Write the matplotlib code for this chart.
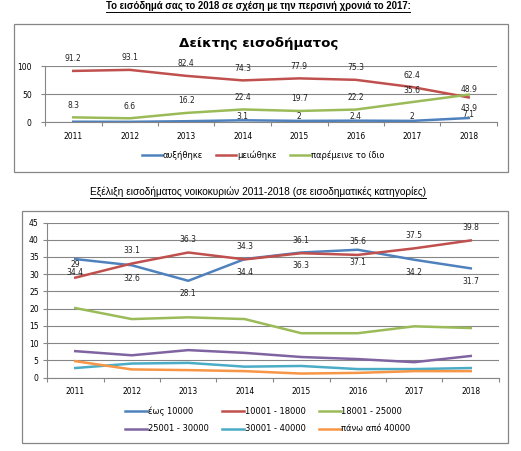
import numpy as np
import matplotlib
matplotlib.use("Agg")
import matplotlib.pyplot as plt
from matplotlib.patches import Rectangle
from matplotlib.lines import Line2D

W, H = 521, 451
DPI = 100

years = ["2011", "2012", "2013", "2014", "2015", "2016", "2017", "2018"]

# top chart: income index
increased = [0.5, 0.3, 1.4, 3.1, 2, 2.4, 2, 7.1]
increased_lbl = ["", "", "", "3.1", "2", "2.4", "2", "7.1"]
decreased = [91.2, 93.1, 82.4, 74.3, 77.9, 75.3, 62.4, 43.9]
same = [8.3, 6.6, 16.2, 22.4, 19.7, 22.2, 35.6, 48.9]
top_names = ["αυξήθηκε", "μειώθηκε", "παρέμεινε το ίδιο"]

# bottom chart: household income by bracket
upto10k = [34.4, 32.6, 28.1, 34.4, 36.3, 37.1, 34.2, 31.7]
b10_18 = [29, 33.1, 36.3, 34.3, 36.1, 35.6, 37.5, 39.8]
b18_25 = [20.2, 17.0, 17.5, 17.0, 12.9, 12.9, 14.9, 14.4]
b25_30 = [7.7, 6.5, 8.0, 7.2, 6.0, 5.4, 4.5, 6.3]
b30_40 = [2.8, 4.1, 4.3, 3.2, 3.4, 2.5, 2.5, 2.8]
over40k = [4.8, 2.4, 2.2, 1.9, 1.2, 1.4, 1.9, 1.9]
bottom_names = ["έως 10000", "10001 - 18000", "18001 - 25000",
                "25001 - 30000", "30001 - 40000", "πάνω από 40000"]

BLUE, RED, GREEN = "#4F81BD", "#C0504D", "#9BBB59"
PURPLE, TEAL, ORANGE = "#8064A2", "#4BACC6", "#F79646"
GRID = "#868686"
LW = 1.8

plt.rcParams["font.family"] = ["DejaVu Sans"]


def fbox(l, t, r, b):
    return [l / W, 1 - b / H, (r - l) / W, (b - t) / H]


def px2pt(p):
    return p * 72.0 / DPI


def style_axes(ax, ymax, ystep, ypad):
    x = np.arange(len(years))
    ax.set_xlim(-0.5, len(years) - 0.5)
    ax.set_ylim(0, ymax)
    ax.set_yticks(np.arange(0, ymax + 0.1, ystep))
    ax.set_xticks(np.arange(-0.5, len(years)), [""] * (len(years) + 1))
    ax.set_xticks(x, years, minor=True)
    ax.tick_params(axis="x", which="major", length=3, width=0.8, color=GRID, direction="out")
    ax.tick_params(axis="x", which="minor", length=0, pad=7, labelsize=5.5)
    ax.tick_params(axis="y", length=3, width=0.8, color=GRID, pad=ypad, labelsize=5.5)
    ax.grid(axis="y", color=GRID, lw=0.8)
    ax.set_axisbelow(True)
    for s in ["top", "right"]:
        ax.spines[s].set_visible(False)
    for s in ["left", "bottom"]:
        ax.spines[s].set_color(GRID)
        ax.spines[s].set_linewidth(0.8)
    ax.set_facecolor("none")


def put_labels(ax, vals, texts, dy_px, last_dy_px=None):
    for i, (v, t) in enumerate(zip(vals, texts)):
        if not t:
            continue
        dy = dy_px if (last_dy_px is None or i < len(vals) - 1) else last_dy_px
        ax.annotate(t, (i, v), xytext=(0, px2pt(dy)), textcoords="offset points",
                    ha="center", va="center", fontsize=5.5, color="#222222",
                    annotation_clip=False)


def underline(fig, txt):
    fig.canvas.draw()
    bb = txt.get_window_extent()
    y = bb.y0 - 0.5
    fig.add_artist(Line2D([bb.x0 / W, bb.x1 / W], [y / H, y / H],
                          transform=fig.transFigure, color="black", lw=0.7))


fig = plt.figure(figsize=(W / DPI, H / DPI), dpi=DPI)

# frames
fig.add_artist(Rectangle((14 / W, 1 - 172 / H), 494 / W, 148 / H, transform=fig.transFigure,
                         fill=False, edgecolor=GRID, lw=0.9))
fig.add_artist(Rectangle((22 / W, 1 - 443 / H), 486 / W, 232 / H, transform=fig.transFigure,
                         fill=False, edgecolor=GRID, lw=0.9))

t1 = fig.text(258 / W, 1 - 6 / H, "Το εισόδημά σας το 2018 σε σχέση με την περσινή χρονιά το 2017:",
              ha="center", va="center", fontsize=6.9, fontweight="bold",
              family=["Liberation Sans Narrow", "Liberation Sans", "DejaVu Sans"])
t2 = fig.text(258 / W, 1 - 192 / H, "Εξέλιξη εισοδήματος νοικοκυριών 2011-2018 (σε εισοδηματικές κατηγορίες)",
              ha="center", va="center", fontsize=7.3,
              family=["Liberation Sans Narrow", "Liberation Sans", "DejaVu Sans"])

# top chart
ax1 = fig.add_axes(fbox(45, 66, 497, 122))
style_axes(ax1, 100, 50, 6.5)
x = np.arange(len(years))
l1, = ax1.plot(x, increased, color=BLUE, lw=LW, label=top_names[0])
l2, = ax1.plot(x, decreased, color=RED, lw=LW, label=top_names[1])
l3, = ax1.plot(x, same, color=GREEN, lw=LW, label=top_names[2])
for ln in (l1, l2, l3):
    ln.set_clip_on(False)
put_labels(ax1, decreased, ["{:g}".format(v) for v in decreased], 12, -11)
put_labels(ax1, same, ["{:g}".format(v) for v in same], 12, 5)
put_labels(ax1, increased, increased_lbl, 4)
fig.text(259 / W, 1 - 44 / H, "Δείκτης εισοδήματος", ha="center", va="center",
         fontsize=9.6, fontweight="bold")
fig.legend([l1, l2, l3], top_names, loc="center", bbox_to_anchor=(263 / W, 1 - 155 / H),
           ncol=3, frameon=False, fontsize=6, handlelength=2.4, handletextpad=0.1,
           columnspacing=1.6, borderpad=0)

# bottom chart
ax2 = fig.add_axes(fbox(47, 222.5, 499, 377.7))
style_axes(ax2, 45, 5, 3)
series = [upto10k, b10_18, b18_25, b25_30, b30_40, over40k]
colors = [BLUE, RED, GREEN, PURPLE, TEAL, ORANGE]
handles = []
for vals, c, n in zip(series, colors, bottom_names):
    h, = ax2.plot(x, vals, color=c, lw=LW, label=n)
    handles.append(h)
put_labels(ax2, b10_18, ["{:g}".format(v) for v in b10_18], 13)
put_labels(ax2, upto10k, ["{:g}".format(v) for v in upto10k], -13)
order = [0, 3, 1, 4, 2, 5]
fig.legend([handles[i] for i in order], [bottom_names[i] for i in order], loc="center",
           bbox_to_anchor=(268 / W, 1 - 420 / H), ncol=3, frameon=False, fontsize=6,
           handlelength=2.6, handletextpad=0.1, columnspacing=1.6, labelspacing=1.0,
           borderpad=0)

underline(fig, t1)
underline(fig, t2)

fig.savefig("out.png", dpi=DPI)
